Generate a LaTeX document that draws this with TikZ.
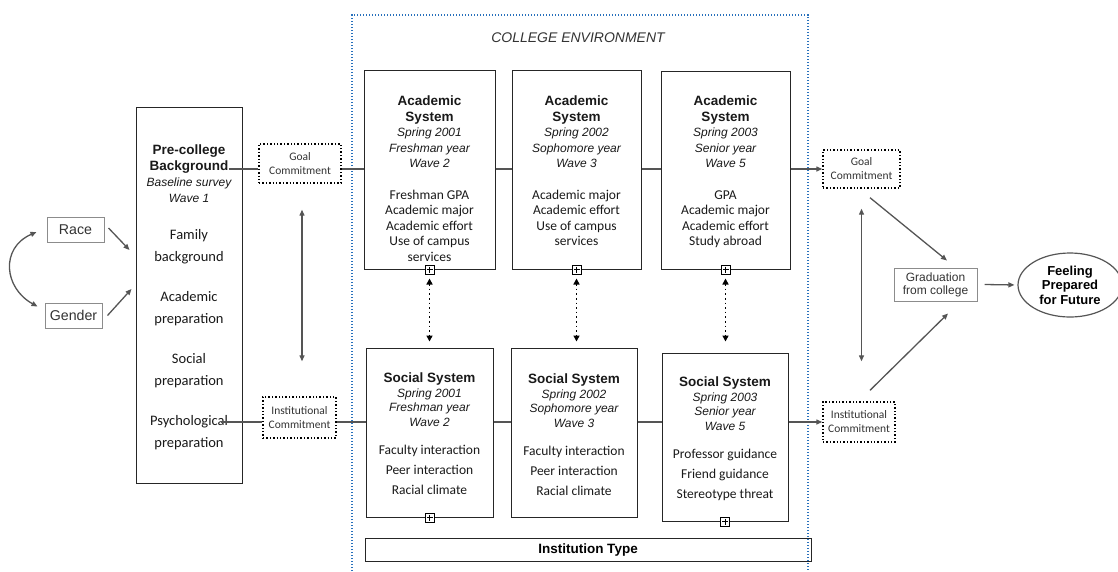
\documentclass[tikz,border=0pt]{standalone}
\usepackage{fontspec}
\setmainfont{Liberation Sans}
\newfontfamily\helv{Liberation Sans}
\newfontfamily\carl{Carlito}
\usetikzlibrary{arrows.meta,shapes.geometric}

\definecolor{envblue}{RGB}{41,113,188}
\definecolor{linegray}{RGB}{85,85,85}
\definecolor{boxgray}{RGB}{140,140,140}

\newcommand\hdr[1]{{\helv\bfseries\fontsize{13.5}{16}\selectfont #1}}
\newcommand\wave[1]{{\helv\itshape\fontsize{12}{14}\selectfont #1}}
\newcommand\varl[1]{{\carl #1}}

\begin{document}
\begin{tikzpicture}[x=1pt, y=-1pt,
    sysbox/.style={draw=black!85, line width=1pt, inner sep=0pt},
    sysfont/.style={anchor=north, align=center, inner sep=0pt, text=black!90, font=\fontsize{13.5}{15.5}\selectfont},
    commit/.style={draw, line width=1.4pt, dash pattern=on 1.4pt off 2pt, inner sep=0pt, align=center,
        text=black!80, font=\carl\fontsize{11.5}{14}\selectfont},
    varbox/.style={draw=boxgray, line width=1pt, inner sep=0pt, text=black!80, font=\helv\fontsize{14.2}{16}\selectfont},
    conn/.style={draw=linegray, line width=1.3pt},
    arr/.style={conn, -{Triangle[length=6pt,width=5pt]}},
    dblarr/.style={conn, {Triangle[length=6pt,width=5pt]}-{Triangle[length=6pt,width=5pt]}},
    dotarr/.style={black, line width=1.6pt, dash pattern=on 1.6pt off 3pt,
        {Triangle[length=6pt,width=6pt]}-{Triangle[length=6pt,width=6pt]}},
    plusbox/.style={draw, fill=white, line width=0.9pt, minimum size=9pt, inner sep=0pt,
        path picture={\draw[line width=0.7pt]
            ([yshift=-1.5pt]path picture bounding box.north) -- ([yshift=1.5pt]path picture bounding box.south)
            ([xshift=1.5pt]path picture bounding box.west) -- ([xshift=-1.5pt]path picture bounding box.east);}},
]
    \useasboundingbox (0,0) rectangle (1118,571);

    % college environment frame
    \draw[envblue, line width=1.3pt, dash pattern=on 1.2pt off 1.8pt] (352,580) -- (352,15) -- (808,15) -- (808,580);
    \node (envlabel) at (578,38) [font=\helv\itshape\fontsize{14}{16}\selectfont, text=black!80] {COLLEGE ENVIRONMENT};

    % pre-college
    \node (race) at (75.5,229.5) [varbox, minimum width=57pt, minimum height=25pt] {Race};
    \node (gender) at (73.5,315.5) [varbox, minimum width=57pt, minimum height=25pt] {Gender};

    \node (pre) at (189,295) [sysbox, minimum width=106pt, minimum height=376pt] {};
    \node (pretxt) at (189,145) [sysfont, font=\fontsize{14.5}{16}\selectfont]
        {\hdr{Pre-college}\\ \hdr{Background}\\ \wave{Baseline survey}\\ \wave{Wave 1}\\[21pt]
         \varl{Family}\\[6pt] \varl{background}\\[24pt] \varl{Academic}\\[6pt] \varl{preparation}\\[24pt]
         \varl{Social}\\[6pt] \varl{preparation}\\[24pt] \varl{Psychological}\\[6pt] \varl{preparation}};

    \node (goalL) at (300,163.5) [commit, minimum width=82pt, minimum height=39pt] {Goal\\Commitment};
    \node (instL) at (299.5,417.5) [commit, minimum width=73pt, minimum height=41pt] {Institutional\\Commitment};

    % academic system
    \node (acad1) at (429.5,169.5) [sysbox, minimum width=131pt, minimum height=199pt] {};
    \node (acad2) at (576.5,169.5) [sysbox, minimum width=129pt, minimum height=199pt] {};
    \node (acad3) at (725.5,170) [sysbox, minimum width=129pt, minimum height=198pt] {};

    \node (acad1txt) at (429.5,96) [sysfont]
        {\hdr{Academic}\\ \hdr{System}\\ \wave{Spring 2001}\\ \wave{Freshman year}\\ \wave{Wave 2}\\[16pt]
         \varl{Freshman GPA}\\ \varl{Academic major}\\ \varl{Academic effort}\\ \varl{Use of campus}\\ \varl{services}};
    \node (acad2txt) at (576.5,96) [sysfont]
        {\hdr{Academic}\\ \hdr{System}\\ \wave{Spring 2002}\\ \wave{Sophomore year}\\ \wave{Wave 3}\\[16pt]
         \varl{Academic major}\\ \varl{Academic effort}\\ \varl{Use of campus}\\ \varl{services}};
    \node (acad3txt) at (725.5,96) [sysfont]
        {\hdr{Academic}\\ \hdr{System}\\ \wave{Spring 2003}\\ \wave{Senior year}\\ \wave{Wave 5}\\[16pt]
         \varl{GPA}\\ \varl{Academic major}\\ \varl{Academic effort}\\ \varl{Study abroad}};

    % social system
    \node (soc1) at (429.5,432.5) [sysbox, minimum width=127pt, minimum height=169pt] {};
    \node (soc2) at (574,432.5) [sysbox, minimum width=126pt, minimum height=169pt] {};
    \node (soc3) at (725,437) [sysbox, minimum width=126pt, minimum height=168pt] {};

    \node (soc1txt) at (429.5,372.5) [sysfont, font=\fontsize{13.5}{14.7}\selectfont]
        {\hdr{Social System}\\ \wave{Spring 2001}\\ \wave{Freshman year}\\ \wave{Wave 2}\\[13pt]
         \varl{Faculty interaction}\\[5.5pt] \varl{Peer interaction}\\[5.5pt] \varl{Racial climate}};
    \node (soc2txt) at (574,373.5) [sysfont, font=\fontsize{13.5}{14.7}\selectfont]
        {\hdr{Social System}\\ \wave{Spring 2002}\\ \wave{Sophomore year}\\ \wave{Wave 3}\\[13pt]
         \varl{Faculty interaction}\\[5.5pt] \varl{Peer interaction}\\[5.5pt] \varl{Racial climate}};
    \node (soc3txt) at (725,376.5) [sysfont, font=\fontsize{13.5}{14.7}\selectfont]
        {\hdr{Social System}\\ \wave{Spring 2003}\\ \wave{Senior year}\\ \wave{Wave 5}\\[13pt]
         \varl{Professor guidance}\\[5.5pt] \varl{Friend guidance}\\[5.5pt] \varl{Stereotype threat}};

    \node (insttype) at (588,549.5) [sysbox, minimum width=446pt, minimum height=23pt,
        font=\helv\bfseries\fontsize{13.5}{16}\selectfont] {Institution Type};

    % outcomes
    \node (goalR) at (861.5,169) [commit, minimum width=77pt, minimum height=38pt] {Goal\\Commitment};
    \node (instR) at (859,422) [commit, minimum width=72pt, minimum height=40pt] {Institutional\\Commitment};
    \node (grad) at (935.5,284.5) [varbox, minimum width=83pt, minimum height=33pt, align=center,
        font=\helv\fontsize{12}{13}\selectfont] {Graduation\\from college};
    \node (future) at (1070,285) [ellipse, draw=linegray, line width=1.2pt, minimum width=104pt, minimum height=64pt,
        inner sep=0pt, align=center, font=\helv\bfseries\fontsize{13}{14.5}\selectfont] {Feeling\\Prepared\\for Future};

    % connectors
    \coordinate (raceIn) at ([shift={(-6pt,45pt)}]pre.west);
    \coordinate (genderIn) at ([shift={(-4pt,6pt)}]pre.west);
    \draw[arr] ([shift={(4pt,1.5pt)}]race.east) -- (raceIn);
    \draw[arr] ([xshift=5pt]gender.east) -- (genderIn);
    \draw[dblarr] ([shift={(-10pt,-2.5pt)}]race.west) .. controls (0,248) and (4,288) .. ([shift={(-7pt,-4pt)}]gender.north west);

    \draw[conn] ([xshift=-14pt]pre.east |- goalR.west) -- (goalL.west |- goalR.west);
    \draw[conn] (goalL.east |- goalR.west) -- (acad1.west |- goalR.west);
    \draw[conn] (acad1.east |- goalR.west) -- (acad2.west |- goalR.west);
    \draw[conn] (acad2.east |- goalR.west) -- (acad3.west |- goalR.west);
    \draw[arr] (acad3.east |- goalR.west) -- (goalR.west);

    \draw[conn] ([xshift=-22pt]pre.east |- instR.west) -- (instL.west |- instR.west);
    \draw[conn] (instL.east |- instR.west) -- (soc1.west |- instR.west);
    \draw[conn] (soc1.east |- instR.west) -- (soc2.west |- instR.west);
    \draw[conn] (soc2.east |- instR.west) -- (soc3.west |- instR.west);
    \draw[arr] (soc3.east |- instR.west) -- (instR.west);

    \draw[dblarr, shorten <=26pt, shorten >=35pt] ([xshift=2pt]goalL.south) -- ([xshift=2.5pt]instL.north);
    \draw[dblarr, shorten <=20pt, shorten >=40pt] (goalR.south) -- (goalR.south |- instR.north);

    \draw[dotarr, shorten <=9pt, shorten >=6pt] (acad1.south) -- (soc1.north);
    \draw[dotarr, shorten <=9pt, shorten >=6pt] (acad2.south) -- (acad2.south |- soc2.north);
    \draw[dotarr, shorten <=9pt, shorten >=11pt] (acad3.south) -- (acad3.south |- soc3.north);

    \node (plusA1) at (acad1.south) [plusbox] {};
    \node (plusA2) at (acad2.south) [plusbox] {};
    \node (plusA3) at (acad3.south) [plusbox] {};
    \node (plusS1) at (soc1.south) [plusbox] {};
    \node (plusS3) at (soc3.south) [plusbox] {};

    \draw[arr] ([shift={(8.5pt,-9pt)}]goalR.south) -- ([shift={(11.5pt,7pt)}]grad.north);
    \draw[arr] ([shift={(11pt,11pt)}]instR.north) -- ([shift={(12.5pt,-12pt)}]grad.south);
    \draw[arr, shorten >=3pt] ([xshift=7pt]grad.east) -- (future.west);

\end{tikzpicture}
\end{document}
